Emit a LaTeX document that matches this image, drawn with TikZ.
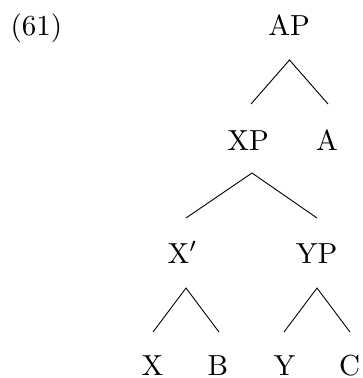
\documentclass[tikz,border=0pt]{standalone}
\usetikzlibrary{calc}
\begin{document}
\begin{tikzpicture}[x=1pt,y=-1pt,
  lbl/.style={inner sep=0pt,anchor=base,scale=2.9,transform shape},
  edge/.style={line width=0.9pt}]
\useasboundingbox (0,0) rectangle (362,378);
\node[lbl,anchor=base west] (num) at (10,35) {(61)};
\node[lbl] (AP) at (289,35) {AP};
\node[lbl] (XP) at (248,150) {XP};
\node[lbl] (A) at (327,150) {A};
\node[lbl] (Xb) at (182.5,263) {X$'$};
\node[lbl] (YP) at (316.5,263) {YP};
\node[lbl] (X) at (152.5,375) {X};
\node[lbl] (B) at (218,375) {B};
\node[lbl] (Y) at (284.5,375) {Y};
\node[lbl] (C) at (349.5,375) {C};
\draw[edge] ($(XP.base)+(3,-46)$) -- ($(AP.base)+(0.5,25)$) -- ($(A.base)+(1,-46)$);
\draw[edge] ($(Xb.base)+(3.5,-45)$) -- ($(XP.base)+(4,23)$) -- ($(YP.base)+(0.5,-45)$);
\draw[edge] ($(X.base)+(0.5,-43)$) -- ($(Xb.base)+(3.5,25)$) -- ($(B.base)+(1,-43)$);
\draw[edge] ($(Y.base)+(-0.5,-43)$) -- ($(YP.base)+(0.5,25)$) -- ($(C.base)+(0.5,-43)$);
\end{tikzpicture}
\end{document}
